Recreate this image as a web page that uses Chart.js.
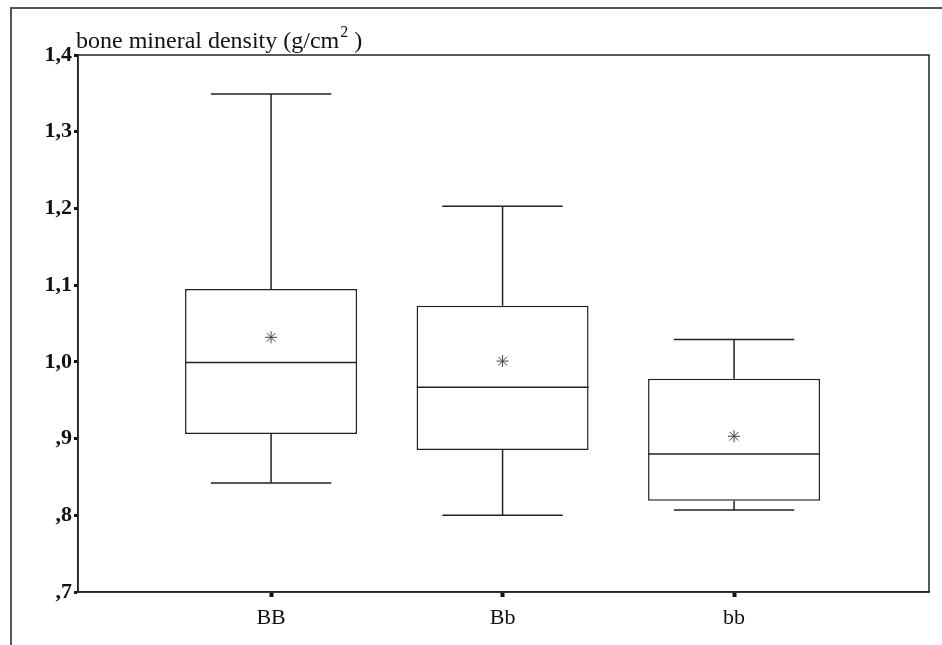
<!DOCTYPE html>
<html>
<head>
<meta charset="utf-8">
<script src="https://cdn.jsdelivr.net/npm/chart.js@4.4.1/dist/chart.umd.min.js"></script>
<style>
    body { margin: 0; background: #fff; }
    #wrap { position: relative; width: 942px; height: 645px; }
    #frame {
        position: absolute; left: 10px; top: 7px; right: 0; bottom: 0;
        border-left: 2px solid #555; border-top: 2px solid #555;
        pointer-events: none;
    }
    canvas { position: absolute; left: 0; top: 0; }
</style>
</head>
<body>
<div id="wrap">
    <div id="frame"></div>
    <canvas id="bmdChart" width="942" height="645"></canvas>
</div>
<script>
// genotype groups
const groups = ['BB', 'Bb', 'bb'];

// box plot values (g/cm2)
const whiskerLow = [0.842, 0.800, 0.807];
const q1 = [0.906, 0.885, 0.819];
const median = [0.999, 0.967, 0.880];
const q3 = [1.095, 1.073, 0.978];
const whiskerHigh = [1.349, 1.203, 1.029];
const means = [1.032, 1.001, 0.903];

// y axis
const yTicks = [0.7, 0.8, 0.9, 1.0, 1.1, 1.2, 1.3, 1.4];

const lineColor = '#222';
const capHalf = 0.26;

// draws whiskers, caps and medians from the arrays through the scales
const boxExtras = {
    id: 'boxExtras',
    afterDatasetsDraw(chart) {
        const ctx = chart.ctx;
        const xs = chart.scales.x;
        const ys = chart.scales.y;
        ctx.save();
        ctx.strokeStyle = lineColor;
        ctx.lineWidth = 1.5;
        groups.forEach((g, i) => {
            const cx = xs.getPixelForValue(i);
            const cl = xs.getPixelForValue(i - capHalf);
            const cr = xs.getPixelForValue(i + capHalf);
            const bar = chart.getDatasetMeta(1).data[i];
            const half = bar.width / 2;
            ctx.beginPath();
            // upper whisker
            ctx.moveTo(cx, ys.getPixelForValue(q3[i]));
            ctx.lineTo(cx, ys.getPixelForValue(whiskerHigh[i]));
            ctx.moveTo(cl, ys.getPixelForValue(whiskerHigh[i]));
            ctx.lineTo(cr, ys.getPixelForValue(whiskerHigh[i]));
            // lower whisker
            ctx.moveTo(cx, ys.getPixelForValue(q1[i]));
            ctx.lineTo(cx, ys.getPixelForValue(whiskerLow[i]));
            ctx.moveTo(cl, ys.getPixelForValue(whiskerLow[i]));
            ctx.lineTo(cr, ys.getPixelForValue(whiskerLow[i]));
            // median
            ctx.moveTo(cx - half, ys.getPixelForValue(median[i]));
            ctx.lineTo(cx + half, ys.getPixelForValue(median[i]));
            ctx.stroke();
        });
        ctx.restore();
    },
    afterDraw(chart) {
        const ctx = chart.ctx;
        const a = chart.chartArea;
        ctx.save();
        // plot frame
        ctx.strokeStyle = lineColor;
        ctx.lineWidth = 1.5;
        ctx.strokeRect(a.left, a.top, a.right - a.left, a.bottom - a.top);
        // axis title above the plot
        ctx.fillStyle = '#111';
        ctx.textBaseline = 'alphabetic';
        ctx.font = '24px "Liberation Serif", serif';
        const main = 'bone mineral density (g/cm';
        const x0 = a.left - 2;
        const y0 = a.top - 7;
        ctx.fillText(main, x0, y0);
        let w = ctx.measureText(main).width;
        ctx.font = '16px "Liberation Serif", serif';
        ctx.fillText('2', x0 + w + 1, y0 - 11);
        w += ctx.measureText('2').width + 1;
        ctx.font = '24px "Liberation Serif", serif';
        ctx.fillText(' )', x0 + w, y0);
        ctx.restore();
    }
};

const ctx = document.getElementById('bmdChart').getContext('2d');

new Chart(ctx, {
    type: 'bar',
    data: {
        datasets: [
            {
                type: 'scatter',
                label: 'mean',
                order: 0,
                data: groups.map((g, i) => ({ x: i, y: means[i] })),
                pointStyle: 'star',
                radius: 6,
                borderColor: '#444',
                backgroundColor: '#444',
                borderWidth: 1
            },
            {
                type: 'bar',
                label: 'IQR',
                order: 1,
                data: groups.map((g, i) => ({ x: i, y: [q1[i], q3[i]] })),
                backgroundColor: '#fff',
                borderColor: lineColor,
                borderWidth: 1.5,
                borderSkipped: false,
                categoryPercentage: 1,
                barPercentage: 0.743
            }
        ]
    },
    options: {
        responsive: false,
        animation: false,
        layout: { padding: { left: 0, top: 55, right: 13, bottom: 0 } },
        plugins: {
            legend: { display: false },
            tooltip: { enabled: false }
        },
        scales: {
            x: {
                type: 'linear',
                offset: false,
                min: -0.834,
                max: 2.842,
                afterBuildTicks: (scale) => {
                    scale.ticks = groups.map((g, i) => ({ value: i }));
                },
                afterFit: (scale) => { scale.height = 53; },
                grid: {
                    offset: false,
                    drawOnChartArea: false,
                    tickLength: 5,
                    tickWidth: 4,
                    color: '#111'
                },
                border: { display: true, color: lineColor, width: 1.5 },
                ticks: {
                    color: '#111',
                    padding: 8,
                    font: { family: '"Liberation Serif", serif', size: 22 },
                    callback: (v) => groups[v]
                }
            },
            y: {
                min: 0.7,
                max: 1.4,
                afterBuildTicks: (scale) => {
                    scale.ticks = yTicks.map(v => ({ value: v }));
                },
                afterFit: (scale) => { scale.width = 78; },
                grid: {
                    drawOnChartArea: false,
                    tickLength: 4,
                    tickWidth: 3,
                    color: '#111'
                },
                border: { display: true, color: lineColor, width: 1.5 },
                ticks: {
                    color: '#111',
                    padding: 2,
                    font: { family: '"Liberation Serif", serif', size: 22, weight: 'bold' },
                    callback: (v) => v.toFixed(1).replace('.', ',').replace(/^0/, '')
                }
            }
        }
    },
    plugins: [boxExtras]
});
</script>
</body>
</html>
